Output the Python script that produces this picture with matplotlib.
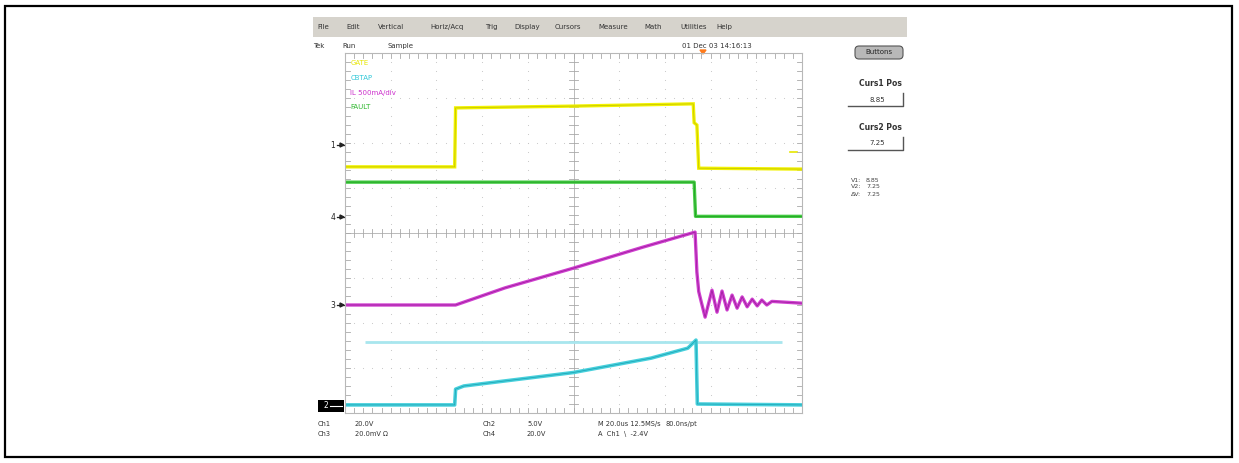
import matplotlib
matplotlib.use("Agg")
import matplotlib.pyplot as plt
from matplotlib.patches import Rectangle, FancyBboxPatch, Polygon
import numpy as np

plt.rcParams['font.family'] = ['DejaVu Sans']

# ---------------- data (divisions: x 0..10, y -4..4) ----------------
ch1_x = [0.0, 2.40, 2.42, 5.00, 7.62, 7.64, 7.70, 7.74, 10.0]
ch1_y = [1.47, 1.47, 2.78, 2.82, 2.87, 2.45, 2.40, 1.44, 1.42]

ch4_x = [0.0, 7.64, 7.67, 10.0]
ch4_y = [1.13, 1.13, 0.37, 0.37]

ch3_x = [0.0, 2.42, 3.50, 5.00, 6.50, 7.66, 7.70, 7.74, 7.80, 7.88, 8.03, 8.14,
         8.25, 8.36, 8.47, 8.58, 8.69, 8.80, 8.91, 9.02, 9.12, 9.23, 9.34, 10.0]
ch3_y = [-1.60, -1.60, -1.22, -0.78, -0.32, 0.02, -0.87, -1.30, -1.55, -1.87, -1.27, -1.76,
         -1.29, -1.71, -1.38, -1.67, -1.42, -1.64, -1.47, -1.62, -1.49, -1.60, -1.52, -1.56]

ch2_x = [0.0, 2.40, 2.42, 2.60, 5.00, 6.70, 7.50, 7.68, 7.71, 10.0]
ch2_y = [-3.82, -3.82, -3.47, -3.40, -3.10, -2.78, -2.56, -2.38, -3.80, -3.82]

cursor_x = [0.44, 9.56]
cursor_y = [-2.42, -2.42]

labels = ["GATE", "CBTAP", "IL 500mA/div", "FAULT"]
label_colors = ["#e6e600", "#30c8d8", "#cc30cc", "#30b830"]

menu_items = ["File", "Edit", "Vertical", "Horiz/Acq", "Trig", "Display",
              "Cursors", "Measure", "Math", "Utilities", "Help"]
menu_x = [317, 346, 378, 430, 485, 514, 555, 598, 644, 680, 716]

# ---------------- figure ----------------
W, H = 1239, 463
fig = plt.figure(figsize=(W / 100, H / 100), dpi=100)
bg = fig.add_axes([0, 0, 1, 1])
bg.set_xlim(0, W)
bg.set_ylim(H, 0)
bg.axis('off')

# outer border
bg.add_patch(Rectangle((5, 6), 1227, 451, fill=False, edgecolor='black', lw=1.6))

# menu bar
bg.add_patch(Rectangle((313, 17), 594, 20, facecolor='#d6d3cc', edgecolor='none'))
for t, x in zip(menu_items, menu_x):
    bg.text(x, 27, t, fontsize=5, color='#333333', va='center', ha='left')

# status row
bg.text(313, 46, "Tek", fontsize=5, color='#333333', va='center')
bg.text(342, 46, "Run", fontsize=5, color='#333333', va='center')
bg.text(388, 46, "Sample", fontsize=5, color='#333333', va='center')
bg.text(682, 46, "01 Dec 03 14:16:13", fontsize=5, color='#333333', va='center')

# right panel
bg.add_patch(FancyBboxPatch((855, 46), 48, 13, boxstyle="round,pad=0,rounding_size=4",
                            facecolor='#b8b8b8', edgecolor='#555555', lw=0.8))
bg.text(879, 52.5, "Buttons", fontsize=5, color='#222222', ha='center', va='center')
for lab, val, y0 in [("Curs1 Pos", "8.85", 84), ("Curs2 Pos", "7.25", 127)]:
    bg.text(880, y0, lab, fontsize=5.5, fontweight='bold', color='#333333',
            ha='center', va='center')
    bg.plot([848, 903, 903], [106, 106, 93] if y0 == 84 else [150, 150, 137],
            color='#555555', lw=1.0)
    bg.text(877, y0 + 16, val, fontsize=5, color='#333333', ha='center', va='center')
for i, (a, b) in enumerate([("V1:", "8.85"), ("V2:", "7.25"), ("ΔV:", "7.25")]):
    bg.text(851, 180 + i * 7, a, fontsize=4.5, color='#444444', va='center')
    bg.text(866, 180 + i * 7, b, fontsize=4.5, color='#444444', va='center')

# bottom readouts
rows = [(424, [("Ch1", 318), ("20.0V", 355), ("Ch2", 483), ("5.0V", 527),
               ("M 20.0us 12.5MS/s", 598), ("80.0ns/pt", 666)]),
        (434, [("Ch3", 318), ("20.0mV Ω", 355), ("Ch4", 483), ("20.0V", 527),
               ("A  Ch1  \\  -2.4V", 598)])]
for y, items in rows:
    for t, x in items:
        bg.text(x, y, t, fontsize=4.8, color='#333333', va='center')

# ground markers
for num, y in [("1", 145), ("4", 217), ("3", 305)]:
    bg.text(333, y, num, fontsize=5.5, color='#222222', ha='center', va='center')
    bg.plot([337, 344], [y, y], color='#222222', lw=0.9)
    bg.add_patch(Polygon([[344, y], [340, y - 2], [340, y + 2]], color='#222222'))
bg.add_patch(Rectangle((318, 400), 26, 12, facecolor='black', edgecolor='none'))
bg.text(326, 406, "2", fontsize=5.5, color='white', ha='center', va='center')
bg.plot([330, 342], [406, 406], color='white', lw=0.8)

# trigger markers
bg.add_patch(Polygon([[700, 50], [706, 50], [703, 54]], color='#ff7a1a'))
bg.plot([790, 797], [152, 152], color='#e6e600', lw=1.2)

# ---------------- graticule axes ----------------
L, R, T, B = 345, 802, 53, 413
ax = fig.add_axes([L / W, 1 - B / H, (R - L) / W, (B - T) / H])
ax.set_xlim(0, 10)
ax.set_ylim(-4, 4)
ax.patch.set_alpha(0)
for s in ax.spines.values():
    s.set_color('#b8b8b8')
    s.set_linewidth(0.8)
ax.set_xticks([])
ax.set_yticks([])

gc = '#c4c4c4'
minor_x = np.arange(0, 10.001, 0.2)
minor_y = np.arange(-4, 4.001, 0.2)
for gx in range(1, 10):
    if gx == 5:
        continue
    ax.scatter(np.full_like(minor_y, gx), minor_y, s=0.6, color=gc, lw=0)
for gy in range(-3, 4):
    if gy == 0:
        continue
    ax.scatter(minor_x, np.full_like(minor_x, gy), s=0.6, color=gc, lw=0)
ax.axvline(5, color='#b0b0b0', lw=0.6)
ax.axhline(0, color='#b0b0b0', lw=0.6)
for x in minor_x:
    ax.plot([x, x], [-0.08, 0.08], color='#a8a8a8', lw=0.6)
    ax.plot([x, x], [-4, -3.88], color='#a8a8a8', lw=0.6)
    ax.plot([x, x], [4, 3.88], color='#a8a8a8', lw=0.6)
for y in minor_y:
    ax.plot([4.9, 5.1], [y, y], color='#a8a8a8', lw=0.6)
    ax.plot([0, 0.1], [y, y], color='#a8a8a8', lw=0.6)
    ax.plot([9.9, 10], [y, y], color='#a8a8a8', lw=0.6)

# cursor line
ax.plot(cursor_x, cursor_y, color='#a8e6ee', lw=2.0, solid_capstyle='butt')

# traces
ax.plot(ch1_x, ch1_y, color='#f2f200', lw=2.4, solid_joinstyle='miter')
ax.plot(ch1_x, ch1_y, color='#c8c800', lw=0.6)
ax.plot(ch4_x, ch4_y, color='#44cc44', lw=2.4)
ax.plot(ch4_x, ch4_y, color='#22a022', lw=0.6)
ax.plot(ch3_x, ch3_y, color='#d040d0', lw=2.4)
ax.plot(ch3_x, ch3_y, color='#a020a0', lw=0.6)
ax.plot(ch2_x, ch2_y, color='#48d0dc', lw=2.6)
ax.plot(ch2_x, ch2_y, color='#20a8b8', lw=0.6)

# channel labels
for i, (t, c) in enumerate(zip(labels, label_colors)):
    ax.text(0.12, 3.78 - i * 0.33, t, fontsize=5, color=c, va='center', ha='left')

fig.savefig("out.png", dpi=100)
